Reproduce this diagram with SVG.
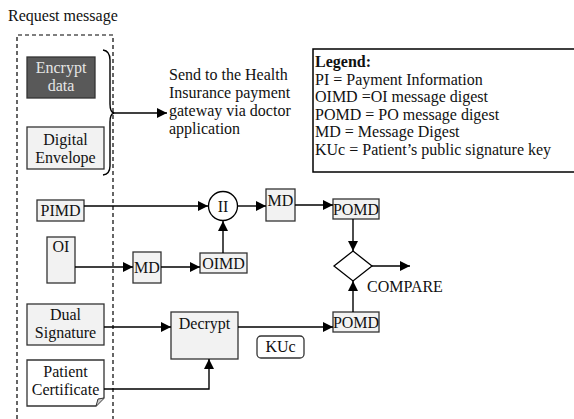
<svg xmlns="http://www.w3.org/2000/svg" width="574" height="419" viewBox="0 0 574 419">
<defs>
<marker id="ah" viewBox="0 0 10 10" refX="10" refY="5" markerWidth="10" markerHeight="10" markerUnits="userSpaceOnUse" orient="auto">
<path d="M0,0 L10,5 L0,10 Z" fill="#000"/>
</marker>
</defs>
<style>
text{font-family:"Liberation Serif","Times New Roman",serif;font-size:16px;fill:#111}
.c{text-anchor:middle}
.box{fill:#f2f2f2;stroke:#333;stroke-width:1.3}
.ln{fill:none;stroke:#000;stroke-width:1.4}
.arr{fill:none;stroke:#000;stroke-width:1.4;marker-end:url(#ah)}
</style>
<rect width="574" height="419" fill="#fff"/>
<text x="8" y="21">Request message</text>
<path d="M17,419 V35 H113 V419" fill="none" stroke="#000" stroke-width="1.2" stroke-dasharray="4,3"/>
<g id="encrypt-data">
<rect x="27" y="57" width="68" height="41" fill="#595959" stroke="#333" stroke-width="1.3"/>
<text class="c" x="61" y="73" style="fill:#e6e6e6">Encrypt</text>
<text class="c" x="61" y="91" style="fill:#e6e6e6">data</text>
</g>
<g id="digital-envelope">
<rect class="box" x="27" y="127" width="77" height="42"/>
<text class="c" x="65.5" y="145">Digital</text>
<text class="c" x="65.5" y="163">Envelope</text>
</g>
<g id="brace">
<path class="ln" d="M103,50 Q110,51 110,60 V104 Q110,112 114,113 Q110,114 110,122 V166 Q110,174 103,175"/>
</g>
<g id="send-text">
<text x="169" y="80">Send to the Health</text>
<text x="169" y="98">Insurance payment</text>
<text x="169" y="116">gateway via doctor</text>
<text x="169" y="134">application</text>
</g>
<g id="legend">
<rect x="313" y="49" width="300" height="123" fill="#fff" stroke="#000" stroke-width="1.5"/>
<text x="315" y="67" style="font-weight:bold">Legend:</text>
<text x="315" y="84.5">PI = Payment Information</text>
<text x="315" y="102">OIMD =OI message digest</text>
<text x="315" y="119.5">POMD = PO message digest</text>
<text x="315" y="137">MD = Message Digest</text>
<text x="315" y="154.5">KUc = Patient’s public signature key</text>
</g>
<g id="pimd">
<rect class="box" x="37" y="200" width="47" height="21"/>
<text class="c" x="60.5" y="216">PIMD</text>
</g>
<g id="concat">
<circle cx="223" cy="206" r="14.5" fill="#fff" stroke="#000" stroke-width="1.3"/>
<text class="c" x="223" y="211.5">II</text>
</g>
<g id="md-top">
<rect class="box" x="266" y="189" width="29" height="32"/>
<text class="c" x="280.5" y="206">MD</text>
</g>
<g id="pomd-top">
<rect class="box" x="333" y="199" width="46" height="20"/>
<text class="c" x="356" y="215">POMD</text>
</g>
<g id="oi">
<rect class="box" x="47" y="237" width="28" height="46"/>
<text class="c" x="61" y="252">OI</text>
</g>
<g id="md-low">
<rect class="box" x="133" y="252" width="28" height="31"/>
<text class="c" x="147" y="273">MD</text>
</g>
<g id="oimd">
<rect class="box" x="200" y="253" width="47" height="20"/>
<text class="c" x="223.5" y="269">OIMD</text>
</g>
<g id="compare">
<path d="M353,251 L372,266 L353,281 L334,266 Z" fill="#fff" stroke="#000" stroke-width="1.3"/>
<text x="367" y="292">COMPARE</text>
</g>
<g id="dual-signature">
<rect class="box" x="27" y="304" width="77" height="41"/>
<text class="c" x="65.5" y="320">Dual</text>
<text class="c" x="65.5" y="338">Signature</text>
</g>
<g id="decrypt">
<rect class="box" x="171" y="312" width="67" height="47"/>
<text class="c" x="204.5" y="329">Decrypt</text>
</g>
<g id="pomd-low">
<rect class="box" x="333" y="312" width="46" height="20"/>
<text class="c" x="356" y="328">POMD</text>
</g>
<g id="kuc">
<rect x="257" y="336" width="47" height="22" rx="4" fill="#fff" stroke="#333" stroke-width="1.3"/>
<text class="c" x="280.5" y="352">KUc</text>
</g>
<g id="patient-certificate">
<path d="M27,360 H104 V398 L96,406 H27 Z" fill="#fff" stroke="#333" stroke-width="1.3"/>
<path d="M104,398 L98,399 L96,406" fill="#ccc" stroke="#333" stroke-width="1"/>
<text class="c" x="65.5" y="377">Patient</text>
<text class="c" x="65.5" y="395">Certificate</text>
</g>
<g id="connectors">
<path class="arr" d="M114,113 H167"/>
<path class="arr" d="M84,206 H208"/>
<path class="arr" d="M237.5,206 H266"/>
<path class="arr" d="M295,205 H333"/>
<path class="arr" d="M75,267 H133"/>
<path class="arr" d="M161,267 H200"/>
<path class="arr" d="M223,253 V221"/>
<path class="arr" d="M353,219 V251"/>
<path class="arr" d="M372,266 H410"/>
<path class="arr" d="M353,312 V281"/>
<path class="arr" d="M104,327 H171"/>
<path class="arr" d="M238,327 H333"/>
<path class="arr" d="M104,389 H209 V359"/>
</g>
</svg>
